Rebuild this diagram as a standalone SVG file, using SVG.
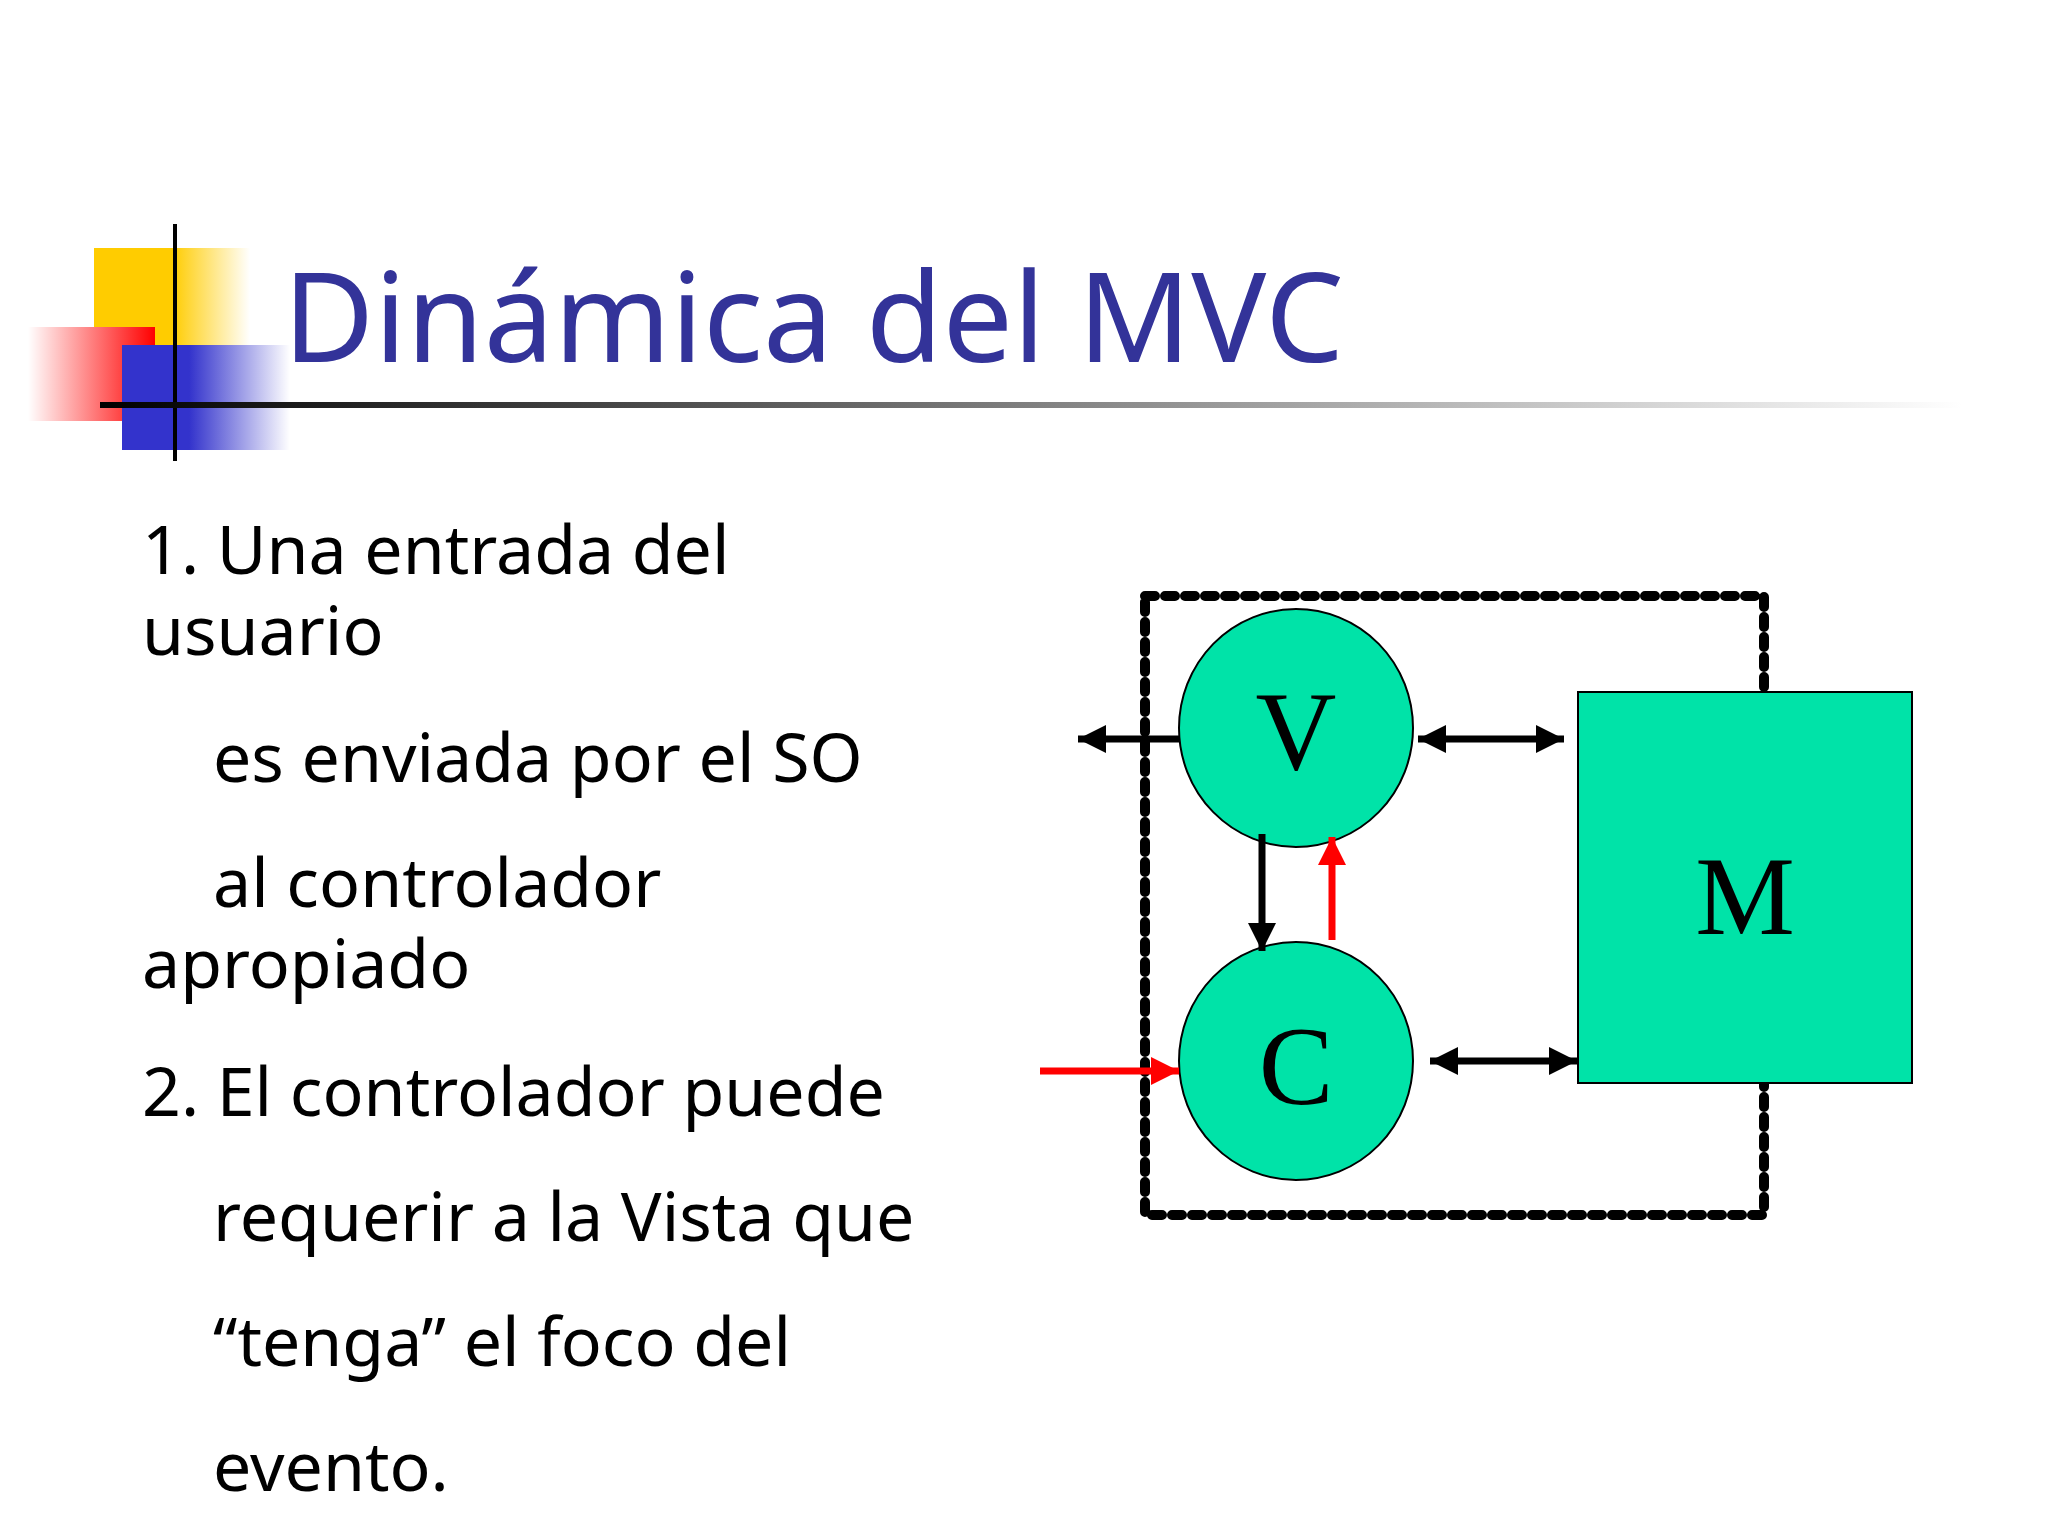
<svg xmlns="http://www.w3.org/2000/svg" width="2048" height="1536" viewBox="0 0 2048 1536">
<style>
.t{font-family:"Noto Sans","Open Sans",sans-serif;font-size:68px;fill:#000}
.lbl{font-family:"Liberation Serif",serif;font-size:112px;fill:#000;text-anchor:middle}
.node{fill:#00e3a8;stroke:#000;stroke-width:2}
.k{stroke:#000;stroke-width:7;fill:none}
.r{stroke:#f00;stroke-width:7;fill:none}
</style>
<defs>
<linearGradient id="gy" x1="0" x2="1"><stop offset="0" stop-color="#ffcc00"/><stop offset="0.5" stop-color="#ffcc00"/><stop offset="1" stop-color="#fff"/></linearGradient>
<linearGradient id="gr" x1="1" x2="0"><stop offset="0" stop-color="#f00"/><stop offset="1" stop-color="#fff"/></linearGradient>
<linearGradient id="gb" x1="0" x2="1"><stop offset="0" stop-color="#3333cc"/><stop offset="0.4" stop-color="#3333cc"/><stop offset="1" stop-color="#fff"/></linearGradient>
<linearGradient id="gl" x1="0" x2="1"><stop offset="0" stop-color="#000"/><stop offset="1" stop-color="#fff"/></linearGradient>
<marker id="ak" viewBox="0 0 10 10" refX="10" refY="5" markerWidth="4" markerHeight="4" orient="auto-start-reverse"><path d="M0,0L10,5L0,10z" fill="#000"/></marker>
<marker id="ar" viewBox="0 0 10 10" refX="10" refY="5" markerWidth="4" markerHeight="4" orient="auto"><path d="M0,0L10,5L0,10z" fill="#f00"/></marker>
</defs>
<rect width="2048" height="1536" fill="#fff"/>
<g id="logo">
<rect x="94" y="248" width="156" height="154" fill="url(#gy)"/>
<rect x="28" y="327" width="127" height="94" fill="url(#gr)"/>
<rect x="122" y="345" width="168" height="105" fill="url(#gb)"/>
<line x1="175" y1="224" x2="175" y2="461" stroke="#000" stroke-width="4"/>
<rect x="100" y="402" width="1862" height="6" fill="url(#gl)"/>
</g>
<text x="283" y="362" font-family="'Noto Sans','Open Sans',sans-serif" font-size="125" fill="#333399">Dinámica del MVC</text>
<g id="body">
<text class="t" x="142" y="574">1. Una entrada del</text>
<text class="t" x="142" y="655">usuario</text>
<text class="t" x="213" y="782">es enviada por el SO</text>
<text class="t" x="213" y="907">al controlador</text>
<text class="t" x="142" y="988">apropiado</text>
<text class="t" x="142" y="1116">2. El controlador puede</text>
<text class="t" x="213" y="1241">requerir a la Vista que</text>
<text class="t" x="213" y="1366">“tenga” el foco del</text>
<text class="t" x="213" y="1491">evento.</text>
</g>
<g transform="translate(-10,-6)">
<rect x="1155" y="602" width="619" height="619" fill="none" stroke="#000" stroke-width="10" stroke-dasharray="10,10" stroke-linecap="round"/>
<g id="M"><rect class="node" x="1588" y="698" width="334" height="391"/><text class="lbl" x="1755" y="940">M</text></g>
<g id="V"><ellipse class="node" cx="1306" cy="734" rx="117" ry="119"/><text class="lbl" x="1306" y="775">V</text></g>
<g id="C"><ellipse class="node" cx="1306" cy="1067" rx="117" ry="119"/><text class="lbl" x="1306" y="1110">C</text></g>
<g id="connectors">
<line class="k" x1="1190" y1="745" x2="1088" y2="745" marker-end="url(#ak)"/>
<line class="k" x1="1428" y1="745" x2="1574" y2="745" marker-start="url(#ak)" marker-end="url(#ak)"/>
<line class="k" x1="1440" y1="1067" x2="1587" y2="1067" marker-start="url(#ak)" marker-end="url(#ak)"/>
<line class="r" x1="1050" y1="1077" x2="1189" y2="1077" marker-end="url(#ar)"/>
<line class="k" x1="1272" y1="840" x2="1272" y2="957" marker-end="url(#ak)"/>
<line class="r" x1="1342" y1="946" x2="1342" y2="843" marker-end="url(#ar)"/>
</g>
</g>
</svg>
